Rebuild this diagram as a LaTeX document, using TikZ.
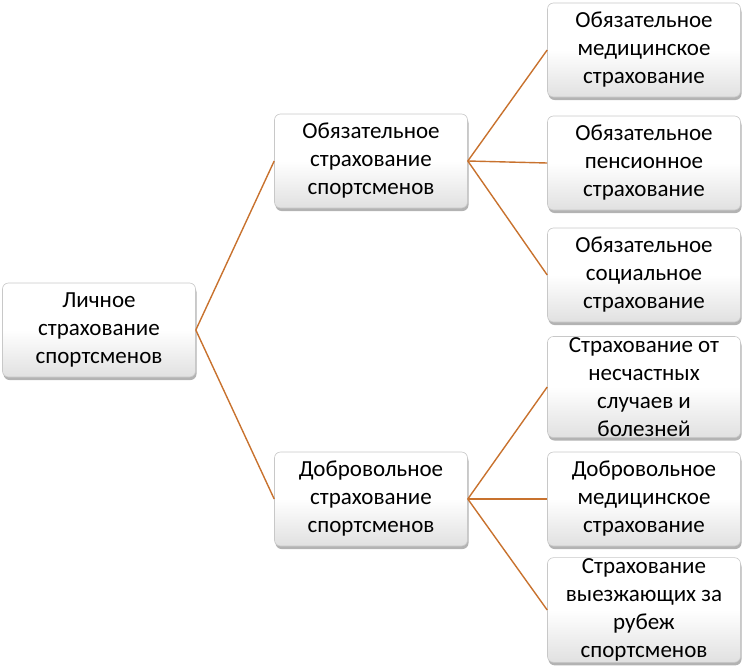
\documentclass[tikz,border=0pt]{standalone}
\usepackage{fontspec}
\setmainfont{Carlito}
\usetikzlibrary{shadows}
\definecolor{linkc}{HTML}{C8722E}
\definecolor{boxb}{HTML}{C8C8C8}
\begin{document}
\begin{tikzpicture}[x=1pt,y=-1pt,
  box/.style={draw=boxb, line width=0.6pt, rounded corners=6pt,
    top color=white, bottom color=black!12, middle color=white,
    drop shadow={shadow xshift=1pt, shadow yshift=-3pt, fill=black!50, opacity=0.6},
    minimum width=193pt, minimum height=94pt, align=center,
    font=\fontsize{23}{28}\selectfont, inner sep=1pt},
  link/.style={draw=linkc, line width=1.4pt}]
\useasboundingbox (0,0) rectangle (744,669);
\node[box] (root) at (99,330) {Личное\\страхование\\спортсменов};
\node[box] (m1) at (371,161) {Обязательное\\страхование\\спортсменов};
\node[box] (m2) at (371,499) {Добровольное\\страхование\\спортсменов};
\node[box] (l1) at (644,50) {Обязательное\\медицинское\\страхование};
\node[box] (l2) at (644,163) {Обязательное\\пенсионное\\страхование};
\node[box] (l3) at (644,275) {Обязательное\\социальное\\страхование};
\node[box] (l4) at (644,387) {Страхование от\\несчастных\\случаев и\\болезней};
\node[box] (l5) at (644,499) {Добровольное\\медицинское\\страхование};
\node[box] (l6) at (644,610) {Страхование\\выезжающих за\\рубеж\\спортсменов};
\draw[link] (root.east) -- (m1.west);
\draw[link] (root.east) -- (m2.west);
\draw[link] (m1.east) -- (l1.west);
\draw[link] (m1.east) -- (l2.west);
\draw[link] (m1.east) -- (l3.west);
\draw[link] (m2.east) -- (l4.west);
\draw[link] (m2.east) -- (l5.west);
\draw[link] (m2.east) -- (l6.west);
\end{tikzpicture}
\end{document}
